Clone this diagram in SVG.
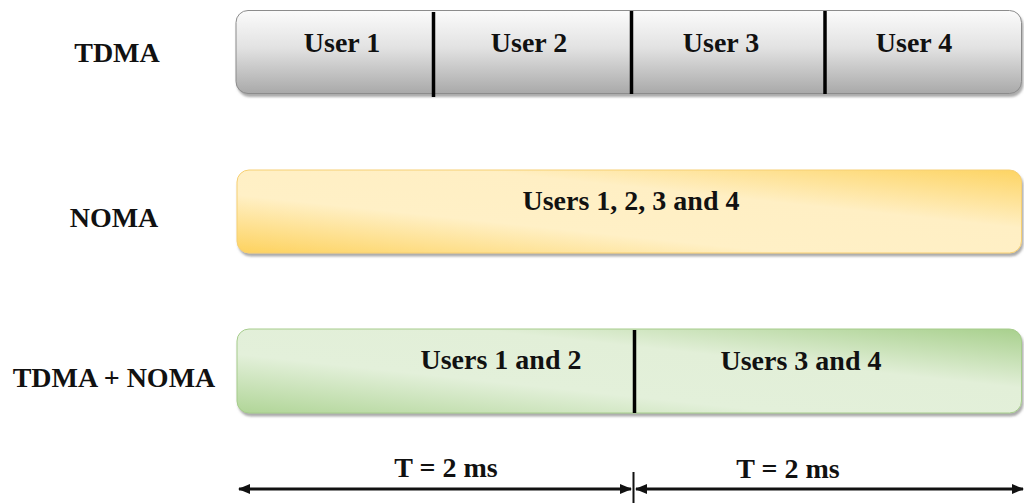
<svg xmlns="http://www.w3.org/2000/svg" width="1024" height="503" viewBox="0 0 1024 503">
<style>
.lbl{font-family:"Liberation Serif","Times New Roman",serif;font-weight:bold;font-size:28px;fill:#111;text-anchor:middle}
.div{stroke:#000;stroke-width:3.5}
.ax{stroke:#111;stroke-width:3;fill:none}
</style>
<defs>
<linearGradient id="gGray" x1="0" y1="0" x2="0" y2="1">
<stop offset="0" stop-color="#fbfbfb"/>
<stop offset="0.45" stop-color="#e2e2e2"/>
<stop offset="1" stop-color="#a9a9a9"/>
</linearGradient>
<linearGradient id="gYel" x1="0" y1="1" x2="1" y2="0">
<stop offset="0" stop-color="#fdd25e"/>
<stop offset="0.35" stop-color="#fff0c6"/>
<stop offset="0.65" stop-color="#ffefc4"/>
<stop offset="1" stop-color="#fdd463"/>
</linearGradient>
<linearGradient id="gGrn" x1="0" y1="1" x2="1" y2="0">
<stop offset="0" stop-color="#b0d597"/>
<stop offset="0.35" stop-color="#e3f0da"/>
<stop offset="0.65" stop-color="#e2efd8"/>
<stop offset="1" stop-color="#a8d08d"/>
</linearGradient>
<filter id="sh" x="-5%" y="-20%" width="110%" height="150%">
<feDropShadow dx="1.5" dy="3" stdDeviation="1.2" flood-color="#666" flood-opacity="0.55"/>
</filter>
<marker id="ah" viewBox="0 0 12 10" refX="11" refY="5" markerWidth="12" markerHeight="10" markerUnits="userSpaceOnUse" orient="auto-start-reverse">
<path d="M0,0 L12,5 L0,10 Z" fill="#111"/>
</marker>
</defs>
<g id="label-tdma"><text class="lbl" x="117" y="62">TDMA</text></g>
<g id="label-noma"><text class="lbl" x="114" y="227">NOMA</text></g>
<g id="label-tdma-noma"><text class="lbl" x="114" y="387">TDMA + NOMA</text></g>
<g id="bar-tdma">
<rect x="236" y="10.5" width="785.5" height="83" rx="12" fill="url(#gGray)" stroke="#8c8c8c" stroke-width="1" filter="url(#sh)"/>
<line class="div" x1="433.5" y1="12" x2="433.5" y2="97"/>
<line class="div" x1="631.5" y1="11" x2="631.5" y2="94"/>
<line class="div" x1="825" y1="11" x2="825" y2="94"/>
<text class="lbl" x="342" y="52">User 1</text>
<text class="lbl" x="529" y="52">User 2</text>
<text class="lbl" x="721" y="52">User 3</text>
<text class="lbl" x="914" y="52">User 4</text>
</g>
<g id="bar-noma">
<rect x="237" y="170" width="784.5" height="83" rx="12" fill="url(#gYel)" stroke="#f6cf72" stroke-width="1" filter="url(#sh)"/>
<text class="lbl" x="631" y="210">Users 1, 2, 3 and 4</text>
</g>
<g id="bar-tdma-noma">
<rect x="237" y="329" width="784.5" height="84" rx="12" fill="url(#gGrn)" stroke="#a6cc8c" stroke-width="1" filter="url(#sh)"/>
<line class="div" x1="634.5" y1="330" x2="634.5" y2="413"/>
<text class="lbl" x="501" y="369">Users 1 and 2</text>
<text class="lbl" x="801" y="370">Users 3 and 4</text>
</g>
<g id="connectors">
<line class="ax" x1="239" y1="489" x2="631" y2="489" marker-start="url(#ah)" marker-end="url(#ah)"/>
<line x1="633.5" y1="472" x2="633.5" y2="503" stroke="#111" stroke-width="2"/>
<line class="ax" x1="636" y1="489" x2="1023" y2="489" marker-start="url(#ah)" marker-end="url(#ah)"/>
</g>
<g id="time-labels">
<text class="lbl" x="446" y="477">T = 2 ms</text>
<text class="lbl" x="788" y="478">T = 2 ms</text>
</g>
</svg>
